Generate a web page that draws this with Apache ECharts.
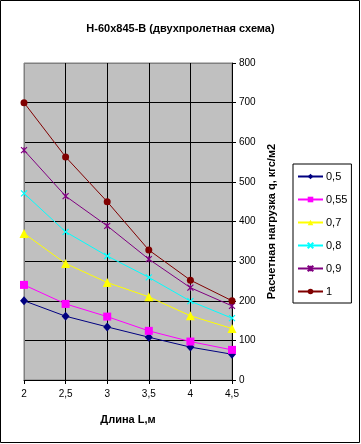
<!DOCTYPE html>
<html><head><meta charset="utf-8">
<script src="https://cdn.jsdelivr.net/npm/echarts@6/dist/echarts.min.js"></script>
<style>html,body{margin:0;padding:0;background:#fff}#c{width:361px;height:444px}</style>
</head><body><div id="c"></div>
<script>
const lengths = [2, 2.5, 3, 3.5, 4, 4.5];
const seriesNames = ['0,5', '0,55', '0,7', '0,8', '0,9', '1'];
const s05  = [200, 161, 134, 108, 83, 65];
const s055 = [240, 192, 160, 124, 97, 76];
const s07  = [370, 294, 246, 210, 162, 130];
const s08  = [471, 374, 313, 259, 199, 156];
const s09  = [580, 464, 389, 305, 233, 187];
const s1   = [700, 563, 450, 328, 252, 200];
const yTicks = [0,100,200,300,400,500,600,700,800];

const values = [s05, s055, s07, s08, s09, s1];
const colors = ['#000080', '#ff00ff', '#ffff00', '#00ffff', '#800080', '#800000'];
const xPath = 'path://M0,0L10,10M10,0L0,10';
const starPath = 'path://M0,0L10,10M10,0L0,10M5,0L5,10';
const symbols = ['diamond', 'rect', 'triangle', xPath, starPath, 'circle'];
const sizes = [[8,9], 8, 9, 6, 6, 7];
const F = 'Liberation Sans, Arial, sans-serif';

const series = values.map((v, i) => ({
  name: seriesNames[i],
  type: 'line',
  data: v.map((y, j) => [lengths[j], y]),
  symbol: symbols[i],
  symbolSize: sizes[i],
  showAllSymbol: true,
  lineStyle: { color: colors[i], width: 1 },
  itemStyle: (i === 3 || i === 4)
    ? { color: colors[i], borderColor: colors[i], borderWidth: 1.2 }
    : { color: colors[i], borderWidth: 0 },
  emphasis: { disabled: true },
  animation: false,
  z: 3 + i
}));

const chart = echarts.init(document.getElementById('c'));
chart.setOption({
  animation: false,
  backgroundColor: '#ffffff',
  title: {
    text: 'Н-60х845-В (двухпролетная схема)',
    left: 'center', top: 18,
    textStyle: { fontFamily: F, fontSize: 11, fontWeight: 'bold', color: '#000' }
  },
  grid: {
    left: 24, right: 129, top: 63, bottom: 64,
    show: true, backgroundColor: '#c0c0c0', borderColor: '#808080', borderWidth: 1
  },
  legend: {
    orient: 'vertical', left: 293, top: 164,
    width: 58,
    padding: [7, 4, 6, 4],
    itemWidth: 25, itemHeight: 7, itemGap: 12,
    backgroundColor: '#fff', borderColor: '#000', borderWidth: 1,
    textStyle: { fontFamily: F, fontSize: 11, color: '#000', padding: [0,0,0,-2] },
    data: seriesNames
  },
  xAxis: {
    type: 'value', min: 2, max: 4.5, interval: 0.5,
    name: 'Длина L,м', nameLocation: 'middle', nameGap: 34,
    nameTextStyle: { fontFamily: F, fontSize: 11, fontWeight: 'bold', color: '#000' },
    axisLine: { show: true, lineStyle: { color: '#000', width: 1 } },
    axisTick: { show: true, inside: false, length: 4, lineStyle: { color: '#000' } },
    axisLabel: { fontFamily: F, fontSize: 10, color: '#000', margin: 9,
      formatter: v => String(v).replace('.', ',') },
    splitLine: { show: true, lineStyle: { color: ['#808080','#000','#000','#000','#000','#000'], width: 1 } }
  },
  yAxis: {
    type: 'value', position: 'right', min: yTicks[0], max: yTicks[yTicks.length-1], interval: 100,
    name: 'Расчетная нагрузка q, кгс/м2', nameLocation: 'middle', nameGap: 34, nameRotate: 90,
    nameTextStyle: { fontFamily: F, fontSize: 11, fontWeight: 'bold', color: '#000' },
    axisLine: { show: true, lineStyle: { color: '#000', width: 1 } },
    axisTick: { show: true, inside: false, length: 4, lineStyle: { color: '#000' } },
    axisLabel: { fontFamily: F, fontSize: 10, color: '#000', margin: 7 },
    splitLine: { show: true, lineStyle: { color: ['#000','#000','#000','#000','#000','#000','#000','#000','#808080'], width: 1 } }
  },
  graphic: [{
    type: 'rect', silent: true, z: 100,
    shape: { x: 0.5, y: 0.5, width: 359, height: 442 },
    style: { fill: 'none', stroke: '#000', lineWidth: 1 }
  }],
  series: series
});
</script></body></html>
